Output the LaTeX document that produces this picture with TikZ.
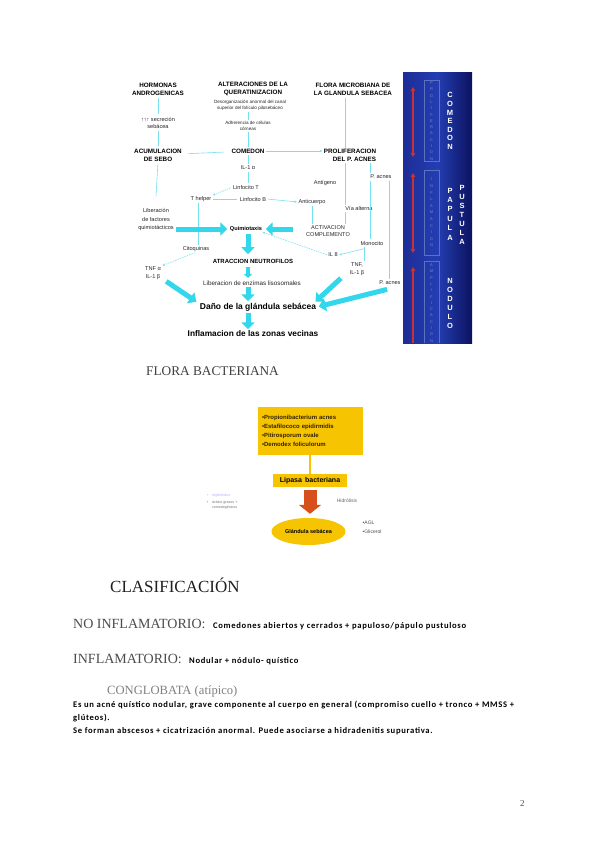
\documentclass[tikz,border=0pt]{standalone}
\usepackage{fontspec}
\setmainfont{Liberation Serif}
\newfontfamily\arialf{Liberation Sans}
\newfontfamily\calif[LetterSpace=8]{Carlito}
\usetikzlibrary{arrows.meta,shapes.geometric,calc}
\newcommand\fsz[2]{\fontsize{#1}{#2}\selectfont}
\definecolor{lc}{RGB}{120,225,240}
\definecolor{bc}{RGB}{50,215,235}
\definecolor{gold}{RGB}{246,196,0}
\definecolor{navyL}{RGB}{30,45,150}
\definecolor{navyM}{RGB}{35,62,178}
\definecolor{navyR}{RGB}{12,18,95}
\definecolor{pale}{RGB}{120,135,200}
\definecolor{redarr}{RGB}{200,50,50}
\definecolor{orangearr}{RGB}{215,80,25}
\begin{document}
\begin{tikzpicture}[x=1pt,y=-1pt,
  hd/.style={font=\arialf\bfseries\fsz{6.3}{7.8}, align=center, inner sep=0.5pt},
  tx/.style={font=\arialf\fsz{5.6}{7}, align=center, inner sep=0.5pt, text=black!85},
  sm/.style={font=\arialf\fsz{4.6}{6}, align=center, inner sep=0.5pt, text=black!85},
  ln/.style={draw=lc, line width=0.6pt},
  lna/.style={ln, -{Stealth[length=2.5pt,width=2.5pt]}},
  dl/.style={ln, dash pattern=on 1.5pt off 1pt, -{Stealth[length=2.5pt,width=2.5pt]}},
  fat/.style={draw=bc, line width=5pt, -{Triangle[length=7pt,width=13pt]}},
  fats/.style={draw=bc, line width=3.5pt, -{Triangle[length=4pt,width=8pt]}},
  redar/.style={draw=redarr, line width=1.2pt},
  vl/.style={font=\arialf\fsz{4}{6.3}, text=pale, align=center, inner sep=0pt},
  vb/.style={text=white, align=center, inner sep=0pt},
  pg/.style={anchor=base west, inner sep=0pt},
  bt/.style={font=\calif\bfseries\fsz{8.6}{10}, text=black, anchor=base west, inner sep=0pt},
  ybox/.style={fill=gold, inner sep=2pt},
]
\useasboundingbox (0,0) rectangle (600,848);
\fill[white] (0,0) rectangle (600,848);

% ---------- blue panel ----------
\shade[left color=navyL, right color=navyR, middle color=navyM] (403,73) rectangle (472,343);
\draw[redar,{Triangle[length=4pt,width=4.5pt]}-{Triangle[length=4pt,width=4.5pt]}] (413,87) -- (413,157);
\draw[redar,{Triangle[length=4pt,width=4.5pt]}-{Triangle[length=4pt,width=4.5pt]}] (413,173) -- (413,253);
\draw[redar,{Triangle[length=4pt,width=4.5pt]}-] (413,267) -- (413,343);
\draw[draw=pale!70!navyM, line width=0.4pt] (424,80) rectangle (439,161);
\draw[draw=pale!70!navyM, line width=0.4pt] (424,170) rectangle (439,255);
\draw[draw=pale!70!navyM, line width=0.4pt] (424,261) -- (424,343) (439,261) -- (439,343) (424,261) -- (439,261);
\node[vl] (vp) at (431.5,121) {P\\R\\O\\L\\I\\F\\E\\R\\A\\C\\I\\O\\N};
\node[vl, font=\arialf\fsz{4}{6.6}] (vi) at (431.5,212.5) {I\\N\\F\\L\\A\\M\\A\\C\\I\\O\\N};
\node[vl] (va) at (431.5,303) {A\\M\\P\\L\\I\\F\\I\\C\\A\\C\\I\\O\\N};
\node[vb, font=\arialf\bfseries\fsz{7.5}{8.6}] (vc) at (450,121) {C\\O\\M\\E\\D\\O\\N};
\node[vb, font=\arialf\bfseries\fsz{7.5}{9.4}] (vpa) at (450,214) {P\\A\\P\\U\\L\\A};
\node[vb, font=\arialf\bfseries\fsz{7.5}{9}] (vpu) at (462,215) {P\\U\\S\\T\\U\\L\\A};
\node[vb, font=\arialf\bfseries\fsz{7.5}{9}] (vn) at (450,303) {N\\O\\D\\U\\L\\O};

% ---------- diagram 1 nodes ----------
\node[hd] (hor) at (158,89) {HORMONAS\\ANDROGENICAS};
\node[tx] (sec) at (158,122.5) {↑↑↑ secreción\\sebácea};
\node[hd] (acu) at (158,155) {ACUMULACION\\DE SEBO};
\node[hd] (alt) at (253,89) {ALTERACIONES DE LA\\QUERATINIZACION};
\node[sm] (des) at (250,105) {Desorganización anormal del canal\\superior del folículo pilosebáceo};
\node[sm] (adh) at (248,126) {Adherencia de células\\córneas};
\node[hd] (com) at (248,151) {COMEDON};
\node[tx] (il1) at (248,168) {IL-1 α};
\node[tx] (lt) at (246,187) {Linfocito T};
\node[hd] (flo) at (353,89) {FLORA MICROBIANA DE\\LA GLANDULA SEBACEA};
\node[hd, align=right] (pro) at (350,155) {PROLIFERACION\\DEL P. ACNES};
\node[tx] (pa1) at (381,177) {P. acnes};
\node[tx] (ant) at (325,183) {Antígeno};
\node[tx] (th) at (201,199) {T helper};
\node[tx] (lb) at (253,199) {Linfocito B};
\node[tx] (anti) at (312,202) {Anticuerpo};
\node[tx] (via) at (359,208) {Vía alterna};
\node[tx, font=\arialf\fsz{5.6}{8.5}] (lib) at (156,220) {Liberación\\de factores\\quimiotácticos};
\node[hd, font=\arialf\bfseries\fsz{5.6}{7}] (qui) at (246,229) {Quimiotaxis};
\node[tx] (act) at (328,231) {ACTIVACION\\COMPLEMENTO};
\node[tx] (cit) at (196,249) {Citoquinas};
\node[tx] (mon) at (372,243) {Monocito};
\node[tx] (il8) at (333,255) {IL 8};
\node[hd, font=\arialf\bfseries\fsz{6}{7}] (atr) at (253,261) {ATRACCION  NEUTROFILOS};
\node[tx, font=\arialf\fsz{5.6}{8}] (tnf1) at (153,273) {TNF α\\IL-1 β};
\node[tx, font=\arialf\fsz{5.6}{8}] (tnf2) at (357,269) {TNF,\\IL-1 β};
\node[tx, font=\arialf\fsz{6.3}{7.5}] (lib2) at (252,283) {Liberacion de enzimas lisosomales};
\node[tx] (pa2) at (390,283) {P. acnes};
\node[hd, font=\arialf\bfseries\fsz{8.5}{10}] (dan) at (258,307) {Daño de la glándula sebácea};
\node[hd, font=\arialf\bfseries\fsz{8.3}{10}] (inf) at (253,334) {Inflamacion de las zonas vecinas};

\coordinate (vx) at (345,0);
\coordinate (px) at (370,0);
\coordinate (qx) at (389,0);
\coordinate (mx) at (364,0);

% thin connectors
\draw[ln, shorten <=2pt, shorten >=2pt] (hor) -- (sec);
\draw[ln, shorten <=2pt, shorten >=2pt] (sec) -- (acu);
\draw[ln, shorten <=2pt] (acu.south) -- ([yshift=12pt]lib.north);
\draw[ln, shorten <=6pt, shorten >=7pt] (acu) -- (com);
\draw[lna, shorten <=1pt, shorten >=1pt] (com) -- (com -| pro.west);
\draw[ln, shorten <=1pt, shorten >=1pt] (des.south -| com) -- (adh.north -| com);
\draw[ln, shorten <=1pt, shorten >=1pt] (adh.south -| com) -- (com.north);
\draw[ln, shorten <=1pt, shorten >=1pt] (com.south) -- (il1.north);
\draw[ln, shorten <=1pt, shorten >=1pt] (il1.south) -- (il1.south |- lt.north);
\draw[ln, shorten <=2pt] (flo.south -| vx) -- (pro.north -| vx);
\draw[ln, shorten <=1pt] (pro.south -| vx) -- (via.north -| vx);
\draw[ln, shorten <=1pt, shorten >=1pt] (via.south -| vx) -- (act.north -| vx);
\draw[ln, shorten <=1pt, shorten >=1pt] (pro.south -| px) -- (pa1.north -| px);
\draw[ln, shorten <=1pt, shorten >=1pt] (pa1.south -| px) -- (mon.north -| px);
\draw[ln, shorten <=1pt, shorten >=1pt] (pa1.south -| qx) -- (pa2.north -| qx);
\draw[ln, shorten <=1pt, shorten >=1pt] (mon.south -| mx) -- (tnf2.north -| mx);
\draw[lna, shorten >=1pt] ([yshift=-3pt]mon.south -| mx) -- (il8.east);
\draw[dl, shorten <=1pt] (il8.west) -- (qui.south east);
\draw[dl, shorten <=2pt, shorten >=1pt] (lt.west) -- (th.north east);
\draw[ln, shorten <=1pt, shorten >=2pt] (th.east) -- (lb.west);
\draw[lna, shorten <=1pt, shorten >=1pt] (lb.east) -- (anti.west);
\draw[ln, shorten <=1pt, shorten >=1pt] (anti.south) -- (anti.south |- act.north);
\draw[ln, shorten <=1pt, shorten >=1pt] ([xshift=-3pt]th.south) -- ([xshift=-3pt]th.south |- cit.north);
\draw[dl, shorten <=1pt, shorten >=1pt] (cit.south) -- (tnf1.north east);

% fat arrows
\draw[fat, shorten <=2pt, shorten >=2pt] (lib.east |- qui) -- (qui.west);
\draw[fat, shorten <=12pt, shorten >=3pt] (act.west |- qui) -- (qui.east);
\draw[fat, shorten <=2pt, shorten >=4pt] (qui.south -| com) -- (atr.north -| com);
\draw[fats, shorten <=3pt, shorten >=2pt] (atr.south -| com) -- (lib2.north -| com);
\draw[fat, shorten <=1pt, shorten >=1pt] (lib2.south -| com) -- (dan.north -| com);
\draw[fat, shorten <=1pt, shorten >=1pt] (dan.south -| com) -- (inf.north -| com);
\draw[fat, shorten <=2pt, shorten >=1pt] ([xshift=3pt]tnf1.south east) -- ([xshift=-2pt]dan.north west);
\draw[fat, shorten <=3pt, shorten >=1pt] ([xshift=-6pt]tnf2.south west) -- ([xshift=-2pt]dan.north east);
\draw[fat, shorten <=3pt, shorten >=2pt] ([yshift=-3pt]pa2.south) -- (dan.east);

% ---------- headings ----------
\node[pg, font=\fsz{13.3}{15}, text=black!75] (fb) at (146,375) {FLORA BACTERIANA};

% ---------- diagram 2 ----------
\node[ybox, minimum width=105pt, minimum height=48pt, text width=97pt, align=left,
      font=\arialf\bfseries\fsz{6}{9}, text={rgb,255:red,50;green,35;blue,0}] (yb) at (310.5,431)
  {•Propionibacterium acnes\\•Estafilococo epidirmidis\\•Pitirosporum ovale\\•Demodex foliculorum};
\node[ybox, minimum width=74pt, minimum height=13pt, font=\arialf\bfseries\fsz{7}{8}] (lip) at (310,480.5) {Lipasa\, bacteriana};
\node[ellipse, fill=gold, minimum width=74pt, minimum height=27pt, inner sep=0pt,
      font=\arialf\bfseries\fsz{5.5}{6.5}] (gl) at (308.5,531.5) {Glándula sebácea};
\draw[ln, draw=gold, line width=1.2pt] (yb.south -| lip) -- (lip.north);
\draw[draw=orangearr, line width=13pt, -{Triangle[length=9pt,width=22pt]}, shorten <=3pt, shorten >=4pt] (lip.south) -- (lip.south |- gl.north);
\node[tx, font=\arialf\fsz{5}{6}, text=black!60] (hid) at (347,501) {Hidrólisis};
\node[tx, font=\arialf\fsz{5}{9}, align=left, anchor=west, text=black!70] (agl) at (362,527.5) {•AGL\\•Glicerol};
\node[font=\arialf\fsz{3.6}{5}, text=blue!30, anchor=west, inner sep=0pt] (f1) at (207,496) {•\quad triglicéridos};
\node[font=\arialf\fsz{3.6}{5}, text=black!55, anchor=north west, align=left, inner sep=0pt] (f2) at (207,501) {•\quad ácidos grasos +\\\hphantom{•\quad}comedogénicos};

% ---------- page text ----------
\node[pg, font=\fsz{17}{20}, text=black!88] (cla) at (110,592) {CLASIFICACIÓN};
\node[pg, font=\fsz{14}{16}, text=black!70] (noi) at (73,628) {NO INFLAMATORIO:};
\node[bt] (noit) at (213,628) {Comedones abiertos y cerrados + papuloso/pápulo pustuloso};
\node[pg, font=\fsz{14}{16}, text=black!70] (inflam) at (73,663) {INFLAMATORIO:};
\node[bt] (inflt) at (189,663) {Nodular + nódulo- quístico};
\node[pg, font=\fsz{12.6}{15}, text=black!50] (cong) at (107,694) {CONGLOBATA (atípico)};
\node[bt] (b1) at (73,707) {Es un acné quístico nodular, grave componente al cuerpo en general (compromiso cuello + tronco + MMSS +};
\node[bt] (b2) at (73,720) {glúteos).};
\node[bt] (b3) at (73,733) {Se forman abscesos + cicatrización anormal. Puede asociarse a hidradenitis supurativa.};
\node[pg, font=\fsz{9}{11}, text=black!70] (pn) at (520,806) {2};
\end{tikzpicture}
\end{document}
